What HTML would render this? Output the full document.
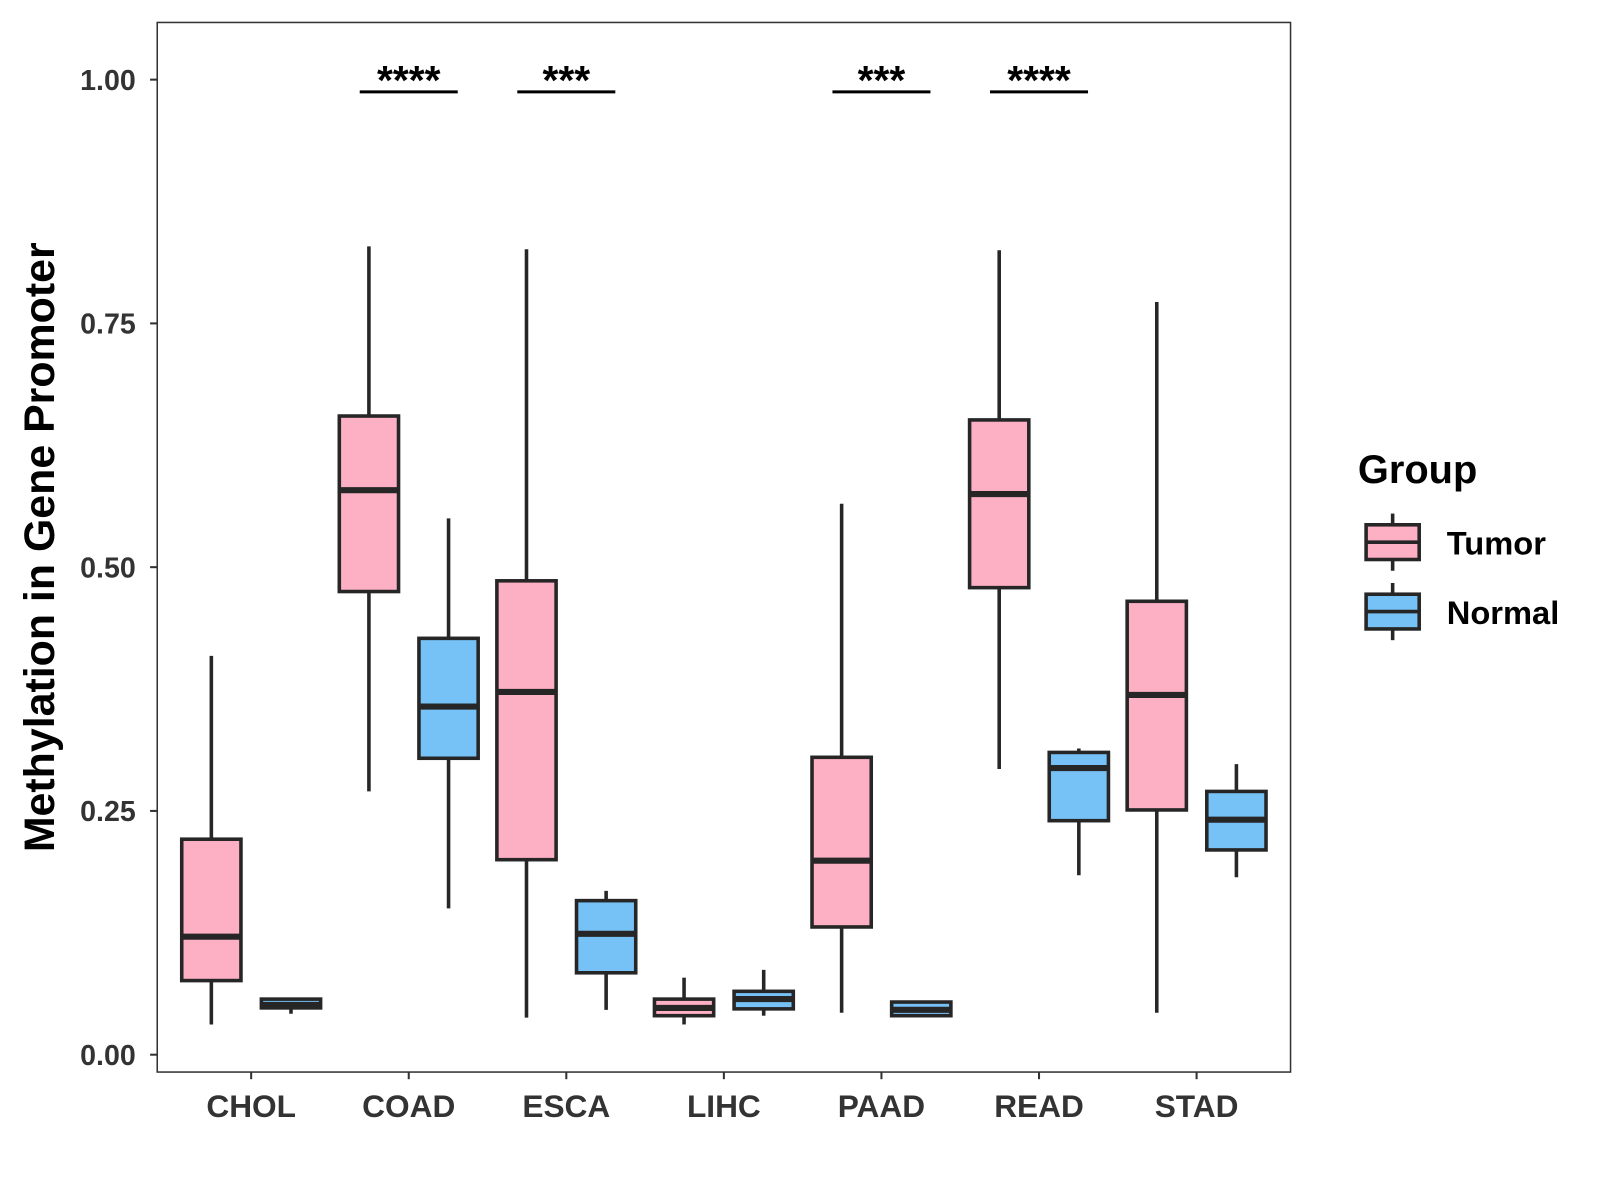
<!DOCTYPE html>
<html><head><meta charset="utf-8"><style>
body{margin:0;background:#fff;}
svg{display:block;font-family:"Liberation Sans",Arial,sans-serif;}
</style></head><body>
<svg id="chart" width="1600" height="1200" viewBox="0 0 1600 1200">
<rect x="0" y="0" width="1600" height="1200" fill="#fff"/>
<g id="plot" transform="scale(1.021)"></g>
</svg>
<script>
const categories = ["CHOL","COAD","ESCA","LIHC","PAAD","READ","STAD"];
// [whiskerLow, Q1, median, Q3, whiskerHigh]
const tumorStats = [
 [0.031,0.076,0.121,0.221,0.409],
 [0.270,0.475,0.579,0.655,0.829],
 [0.038,0.200,0.372,0.486,0.826],
 [0.031,0.040,0.048,0.057,0.079],
 [0.043,0.131,0.199,0.305,0.565],
 [0.293,0.479,0.575,0.651,0.825],
 [0.043,0.251,0.369,0.465,0.772]
];
const normalStats = [
 [0.042,0.048,0.051,0.057,0.057],
 [0.150,0.304,0.357,0.427,0.550],
 [0.046,0.084,0.124,0.158,0.168],
 [0.040,0.047,0.057,0.065,0.087],
 [0.039,0.040,0.046,0.054,0.054],
 [0.184,0.240,0.294,0.310,0.314],
 [0.182,0.210,0.241,0.270,0.298]
];
const yTicks = [0,0.25,0.5,0.75,1.0];
const yTickLabels = ["0.00","0.25","0.50","0.75","1.00"];
const sigCategories = ["COAD","ESCA","PAAD","READ"];
const sigLabels = ["****","***","***","****"];

const NS="http://www.w3.org/2000/svg";
const g=document.getElementById('plot');
function el(tag,attrs,parent){const e=document.createElementNS(NS,tag);for(const k in attrs)e.setAttribute(k,attrs[k]);(parent||g).appendChild(e);return e;}
const PX0=154,PX1=1264,PY0=22,PY1=1050;
function yScale(v){return 1033-955*v;}
function xScale(i){return 246+i*154.33;}
const OFF=39,BW=58;

let e=el('rect',{x:PX0,y:PY0,width:PX1-PX0,height:PY1-PY0,fill:'none',stroke:'#333','stroke-width':1.5});



yTicks.forEach((v,i)=>{
  const y=yScale(v);
  let t=el('line',{x1:147,x2:PX0,y1:y,y2:y,stroke:'#333','stroke-width':2});
  
  
  let l=el('text',{x:133,y:y+10,'text-anchor':'end','font-size':28,'font-weight':'bold',fill:'#333'});
  l.textContent=yTickLabels[i];
  
  
});
categories.forEach((c,i)=>{
  const x=xScale(i);
  let t=el('line',{x1:x,x2:x,y1:PY1,y2:PY1+7,stroke:'#333','stroke-width':2});
  
  
  let l=el('text',{x:x,y:1094,'text-anchor':'middle','font-size':31,'font-weight':'bold',fill:'#333'});
  l.textContent=c;
  
  
});

function drawBox(cx,s,fill,name){
  const gr=el('g',{});
  
  
  el('line',{x1:cx,x2:cx,y1:yScale(s[0]),y2:yScale(s[4]),stroke:'#262626','stroke-width':3.5},gr);
  el('rect',{x:cx-BW/2,y:yScale(s[3]),width:BW,height:yScale(s[1])-yScale(s[3]),fill:fill,stroke:'#262626','stroke-width':3.5},gr);
  el('line',{x1:cx-BW/2,x2:cx+BW/2,y1:yScale(s[2]),y2:yScale(s[2]),stroke:'#262626','stroke-width':6},gr);
}
categories.forEach((c,i)=>{
  drawBox(xScale(i)-OFF,tumorStats[i],'#fdb0c4','box-tumor-'+c.toLowerCase());
  drawBox(xScale(i)+OFF,normalStats[i],'#76c1f6','box-normal-'+c.toLowerCase());
});
sigCategories.forEach((c,k)=>{
  const i=categories.indexOf(c),x=xScale(i);
  let ln=el('line',{x1:x-48,x2:x+48,y1:90,y2:90,stroke:'#000','stroke-width':3});
  
  
  let t=el('text',{x:x,y:92,'text-anchor':'middle','font-size':40,'font-weight':'bold',fill:'#000'});
  t.textContent=sigLabels[k];
  
  
});
let yt=el('text',{x:0,y:0,transform:'translate(53,536) rotate(-90)','text-anchor':'middle','font-size':42,'font-weight':'bold',fill:'#000'});
yt.textContent='Methylation in Gene Promoter';



let lt=el('text',{x:1330,y:473,'font-size':39,'font-weight':'bold',fill:'#000'});
lt.textContent='Group';


[["Tumor",'#fdb0c4',514],["Normal",'#76c1f6',582]].forEach(([n,f,y])=>{
  const gr=el('g',{});
  
  
  el('line',{x1:1364,x2:1364,y1:y-11,y2:y+45,stroke:'#262626','stroke-width':3.5},gr);
  el('rect',{x:1338,y:y,width:52,height:34,fill:f,stroke:'#262626','stroke-width':3.5},gr);
  el('line',{x1:1338,x2:1390,y1:y+17,y2:y+17,stroke:'#262626','stroke-width':3.5},gr);
  const t=el('text',{x:1417,y:y+29,'font-size':32,'font-weight':'bold',fill:'#000'},gr);
  t.textContent=n;
});
</script>
</body></html>
